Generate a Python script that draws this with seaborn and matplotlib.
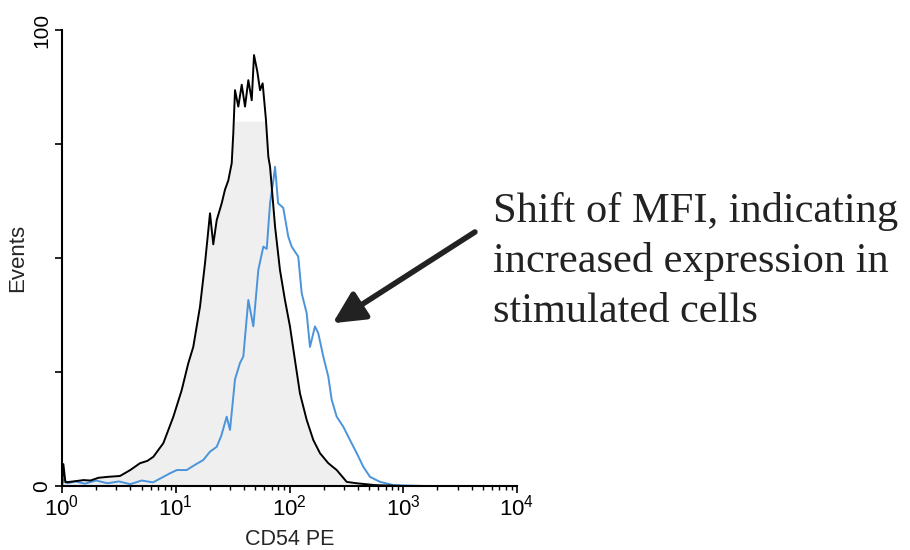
import numpy as np
import pandas as pd
import matplotlib
matplotlib.use("Agg")
import matplotlib.pyplot as plt
import seaborn as sns

# ---- data (log10 of CD54 PE intensity, event counts) ----
control_log = [0.00, 0.012, 0.03, 0.10, 0.19, 0.25, 0.32, 0.40, 0.51, 0.60, 0.686, 0.75,
               0.803, 0.891, 0.979, 1.052, 1.11, 1.154, 1.213, 1.257, 1.286, 1.301, 1.33,
               1.36, 1.404, 1.433, 1.462, 1.492, 1.506, 1.521, 1.550, 1.580, 1.609, 1.638,
               1.668, 1.688, 1.717, 1.741, 1.764, 1.793, 1.814, 1.829, 1.873, 1.916, 1.960,
               2.004, 2.048, 2.092, 2.151, 2.209, 2.268, 2.341, 2.415, 2.503, 2.591, 2.75,
               3.0, 4.0]
control_events = [0.0, 4.8, 0.8, 1.0, 1.3, 1.2, 1.8, 2.0, 2.2, 3.5, 5.0, 5.5,
                  6.4, 9.4, 15.2, 21.0, 26.9, 30.5, 39.3, 48.8, 56.0, 59.8, 53.0,
                  58.3, 62.0, 65.0, 67.0, 70.8, 77.4, 86.8, 83.2, 88.0, 83.2, 89.0,
                  84.6, 94.5, 90.9, 86.8, 88.3, 80.3, 72.2, 70.0, 56.9, 47.4, 40.8,
                  35.0, 27.6, 20.3, 14.5, 10.1, 7.2, 5.0, 3.5, 0.9, 0.6, 0.2,
                  0.0, 0.0]

stim_log = [0.00, 0.012, 0.05, 0.12, 0.20, 0.30, 0.40, 0.50, 0.60, 0.70, 0.80, 0.891,
            0.95, 1.01, 1.096, 1.18, 1.242, 1.30, 1.36, 1.40, 1.448, 1.477, 1.521, 1.565,
            1.594, 1.638, 1.682, 1.726, 1.77, 1.80, 1.829, 1.858, 1.873, 1.90, 1.945,
            1.989, 2.019, 2.077, 2.107, 2.151, 2.18, 2.224, 2.253, 2.297, 2.341, 2.371,
            2.415, 2.473, 2.517, 2.591, 2.649, 2.708, 2.796, 2.913, 3.2, 4.0]
stim_events = [0.0, 1.5, 0.6, 1.0, 0.5, 1.2, 0.6, 1.0, 0.4, 1.2, 0.8, 2.0,
               2.8, 3.5, 3.5, 4.8, 5.7, 7.5, 8.6, 11.0, 15.2, 12.3, 23.4, 27.0,
               28.4, 40.8, 35.0, 47.4, 52.5, 52.0, 62.0, 67.0, 70.0, 62.0, 61.0,
               54.7, 52.5, 50.3, 42.3, 37.9, 30.5, 35.0, 33.5, 28.4, 24.0, 18.9,
               15.2, 13.0, 10.8, 7.2, 4.2, 2.0, 0.9, 0.2, 0.0, 0.0]

fill_cap = 80.0  # top of the shaded control area

x_ticks = [1, 10, 100, 1000, 10000]
x_ticklabels = [r"$10^{0}$", r"$10^{1}$", r"$10^{2}$", r"$10^{3}$", r"$10^{4}$"]
y_ticks = [0, 25, 50, 75, 100]
y_ticklabels = ["0", "", "", "", "100"]

annotation_lines = ["Shift of MFI, indicating",
                    "increased expression in",
                    "stimulated cells"]

control = pd.DataFrame({"intensity": 10 ** np.array(control_log), "events": control_events})
stim = pd.DataFrame({"intensity": 10 ** np.array(stim_log), "events": stim_events})

# ---- figure ----
sns.set_style("white")
plt.rcParams["font.family"] = ["Liberation Sans", "DejaVu Sans"]
plt.rcParams["mathtext.fontset"] = "custom"
plt.rcParams["mathtext.rm"] = "Liberation Sans"
plt.rcParams["mathtext.it"] = "Liberation Sans"
plt.rcParams["mathtext.bf"] = "Liberation Sans"

fig = plt.figure(figsize=(9.1, 5.5), dpi=100)
ax = fig.add_axes([62 / 910, 1 - 486 / 550, (517 - 62) / 910, (486 - 30) / 550])

ax.fill_between(control["intensity"], np.minimum(control["events"], fill_cap),
                color="#efefef", linewidth=0, zorder=0)
sns.lineplot(data=control, x="intensity", y="events", sort=False, color="black",
             linewidth=1.4, ax=ax, zorder=3)
sns.lineplot(data=stim, x="intensity", y="events", sort=False, color="#4a94dc",
             linewidth=1.4, ax=ax, zorder=2)

ax.set_xscale("log")
ax.set_xlim(1, 10000)
ax.set_ylim(0, 100)

for s in ["top", "right"]:
    ax.spines[s].set_visible(False)
for s in ["left", "bottom"]:
    ax.spines[s].set_color("black")
    ax.spines[s].set_linewidth(1.5)

ax.set_xticks(x_ticks)
ax.set_xticklabels(x_ticklabels, fontsize=16)
ax.xaxis.set_minor_locator(matplotlib.ticker.LogLocator(base=10, subs=np.arange(2, 10)))
ax.xaxis.set_minor_formatter(matplotlib.ticker.NullFormatter())
ax.tick_params(axis="x", which="major", direction="out", length=5, width=1.2,
               bottom=True, pad=1, colors="black")
ax.tick_params(axis="x", which="minor", direction="out", length=3, width=1.0,
               bottom=True, colors="black")

ax.set_yticks(y_ticks)
ax.set_yticklabels(y_ticklabels, fontsize=15, rotation=90, va="center")
ax.tick_params(axis="y", direction="out", length=5, width=1.2, left=True, pad=3,
               colors="black")

ax.set_xlabel("CD54 PE", fontsize=15.5, labelpad=6)
ax.set_ylabel("Events", fontsize=16, labelpad=3)

ax.annotate("", xy=(10 ** 2.38, 35.7), xytext=(10 ** 3.63, 55.7),
            xycoords="data", textcoords="data", annotation_clip=False,
            arrowprops=dict(arrowstyle="-|>", lw=4, color="#222222",
                            mutation_scale=48, shrinkA=0, shrinkB=0))

for i, line in enumerate(annotation_lines):
    fig.text(493 / 910, 1 - (222 + 50 * i) / 550, line, fontsize=30.5,
             family=["Liberation Serif", "DejaVu Serif"], color="#222222",
             ha="left", va="baseline")

fig.savefig("out.png", dpi=100)
